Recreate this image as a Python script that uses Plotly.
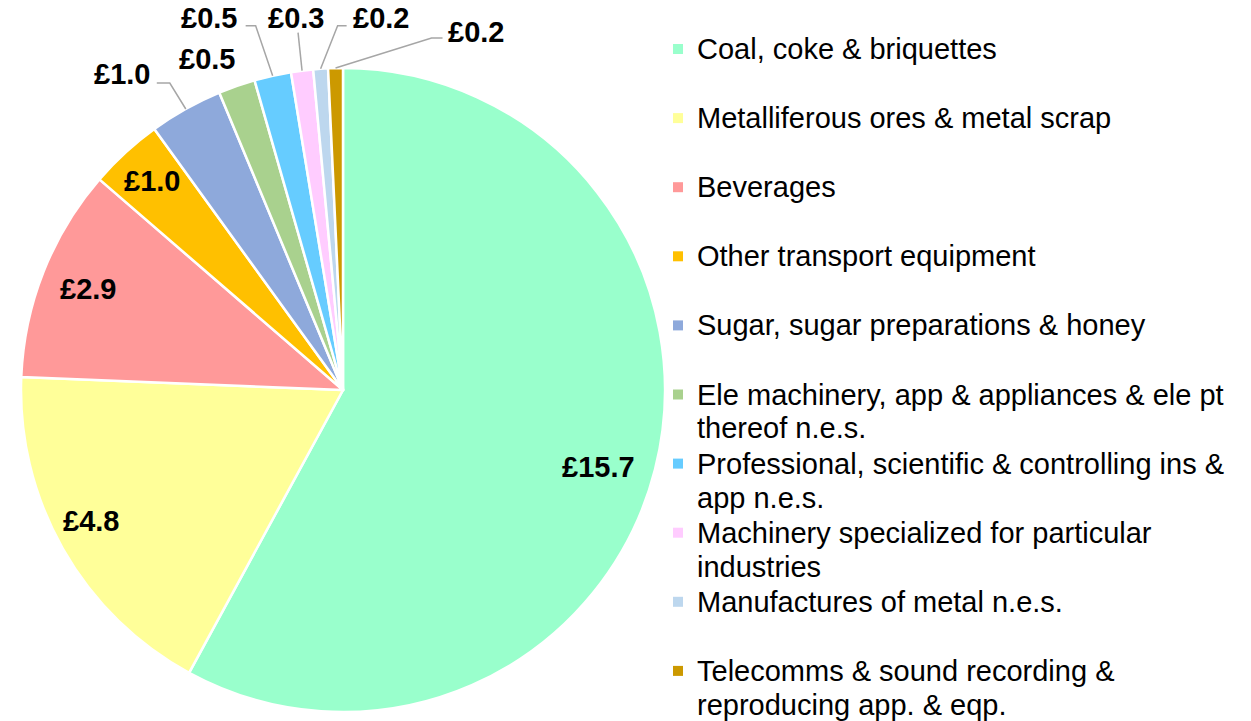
import numpy as np
import plotly.graph_objects as go

categories = ["Coal, coke & briquettes",
              "Metalliferous ores & metal scrap",
              "Beverages",
              "Other transport equipment",
              "Sugar, sugar preparations & honey",
              "Ele machinery, app & appliances & ele pt<br>thereof n.e.s.",
              "Professional, scientific & controlling ins &<br>app n.e.s.",
              "Machinery specialized for particular<br>industries",
              "Manufactures of metal n.e.s.",
              "Telecomms & sound recording &<br>reproducing app. & eqp."]
values = [15.7, 4.8, 2.9, 1.0, 1.0, 0.5, 0.5, 0.3, 0.2, 0.2]
colors = ["#99FFCC", "#FFFF99", "#FF9999", "#FFC000", "#8EA9DB",
          "#A9D18E", "#66CCFF", "#FFCCFF", "#BDD7EE", "#CC9900"]

W, H = 1251, 721
cx, cy, R = 343, 390, 322
FONT = "Liberation Sans, Arial, sans-serif"

# label placement: inside -> (radius factor, dx, dy); outside -> text/elbow/end offsets from slice edge
inside = {0: (0.82, 0, 12), 1: (0.9, 0, -12), 2: (0.85, 0, 0), 3: (0.88, 0, 0)}
outside = {4: ((-64, -35), [(-16, -26), (-29, -26)]),
           5: ((-30, -27), None),
           6: ((-64, -58), [(-17, -50), (-27, -50)]),
           7: ((-6, -53), [(-4, -38)]),
           8: ((60, -51), [(17, -43), (26, -43)]),
           9: ((140, -36), [(96, -30), (107, -30)])}


def px(x, y):
    return x / W, 1 - y / H


fig = go.Figure(go.Pie(
    labels=categories, values=values, sort=False, direction="clockwise",
    rotation=0, textinfo="none", hoverinfo="label+value",
    marker=dict(colors=colors, line=dict(color="white", width=2.5)),
    domain=dict(x=[(cx - R) / W, (cx + R) / W],
                y=[1 - (cy + R) / H, 1 - (cy - R) / H]),
    showlegend=False))

total = sum(values)
cum = np.cumsum([0] + values)
annotations = []
shapes = []
for i, v in enumerate(values):
    mid = np.radians((cum[i] + v / 2) / total * 360)
    s, c = np.sin(mid), np.cos(mid)
    txt = f"£{v:.1f}"
    if i in inside:
        f, dx, dy = inside[i]
        tx, ty = cx + f * R * s + dx, cy - f * R * c + dy
    else:
        ex, ey = cx + R * s, cy - R * c
        (ox, oy), pts = outside[i]
        tx, ty = ex + ox, ey + oy
        if pts:
            path = "M {} {}".format(*px(ex, ey))
            for qx, qy in pts:
                path += " L {} {}".format(*px(ex + qx, ey + qy))
            shapes.append(dict(type="path", path=path, xref="paper", yref="paper",
                               line=dict(color="#A6A6A6", width=1.5)))
    x, y = px(tx, ty)
    annotations.append(dict(x=x, y=y, xref="paper", yref="paper", text=txt,
                            showarrow=False, xanchor="center", yanchor="middle",
                            font=dict(family=FONT, size=29, color="black", weight="bold")))

# legend drawn by hand so every entry takes the same two-line slot
for i, name in enumerate(categories):
    ly = 49 + 69.1 * i
    for k, line in enumerate(name.split("<br>")):
        x, y = px(695, ly + k * 34)
        annotations.append(dict(x=x, y=y, xref="paper", yref="paper", text=line,
                                showarrow=False, xanchor="left", yanchor="middle",
                                font=dict(family=FONT, size=29, color="black")))
    x0, y0 = px(673, ly - 5)
    x1, y1 = px(683, ly + 5)
    shapes.append(dict(type="rect", x0=x0, x1=x1, y0=y1, y1=y0, xref="paper", yref="paper",
                       fillcolor=colors[i], line=dict(width=0)))

fig.update_layout(width=W, height=H, margin=dict(l=0, r=0, t=0, b=0),
                  paper_bgcolor="white", plot_bgcolor="white",
                  annotations=annotations, shapes=shapes,
                  font=dict(family=FONT))

fig.write_html("out.html", config={"displayModeBar": False},
               post_script="document.body.style.margin='0';")
